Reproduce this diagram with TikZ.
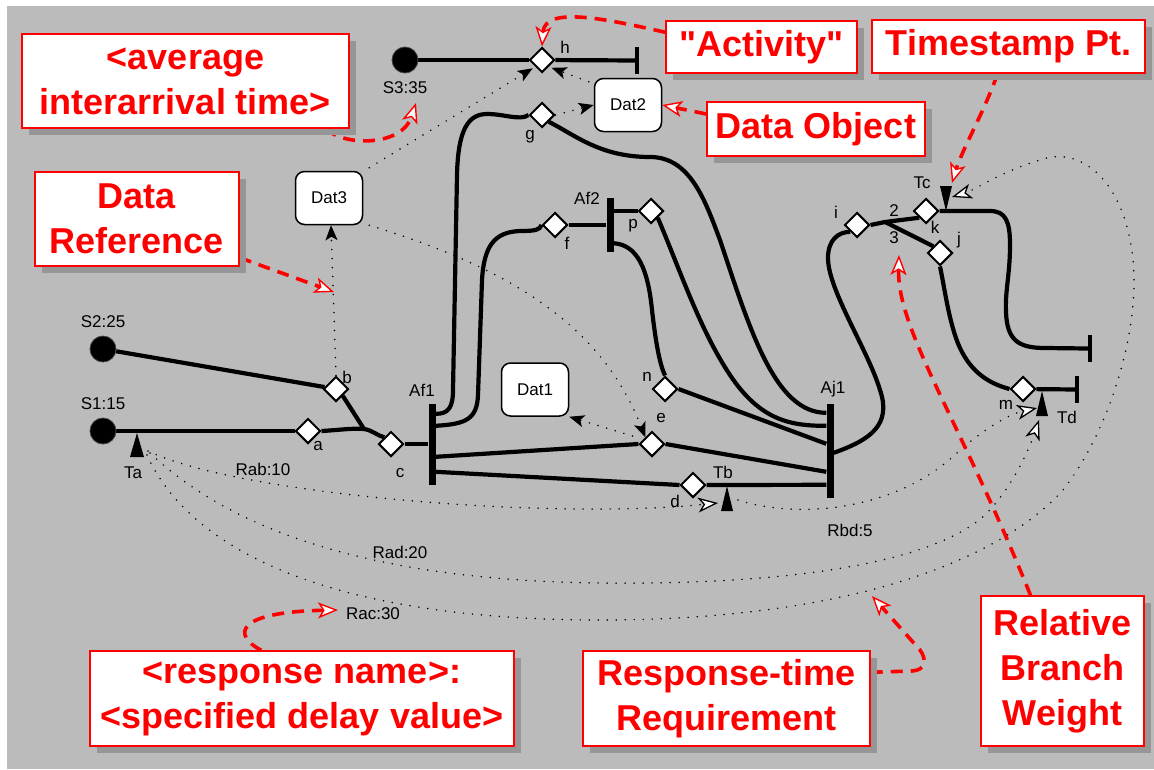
\documentclass[tikz,border=0pt]{standalone}
\usepackage{fontspec}
\setmainfont{Liberation Sans}[Ligatures=TeXOff]
\usetikzlibrary{shapes.geometric,arrows.meta,calc,shadows}
\pgfdeclarelayer{back}
\pgfdeclarelayer{lines}
\pgfsetlayers{back,lines,main}
\definecolor{panel}{RGB}{187,187,187}
\definecolor{shade}{RGB}{150,150,150}
\definecolor{note}{RGB}{255,0,0}

\begin{document}
\begin{tikzpicture}[x=1pt,y=-1pt,
  lbl/.style={font=\fontsize{17}{20}\selectfont, inner sep=0pt},
  flow/.style={line width=4.2pt, line join=round},
  bar/.style={fill=black, inner sep=0pt, minimum width=7pt},
  endbar/.style={fill=black, inner sep=0pt, minimum width=4pt, minimum height=27pt},
  startpt/.style={circle, fill=black, draw=black!75, line width=0.8pt, minimum size=26pt, inner sep=0pt},
  resp/.style={diamond, draw=black, fill=white, line width=2pt, minimum size=25pt, inner sep=0pt},
  datobj/.style={draw=black, fill=white, line width=1.5pt, rounded corners=9pt,
    minimum width=67pt, minimum height=53pt, inner sep=0pt, font=\fontsize{17}{20}\selectfont},
  callout/.style={draw=note, fill=white, line width=1.5pt, text=note, align=center, inner sep=0pt,
    font=\fontsize{36}{45}\selectfont\bfseries,
    drop shadow={shadow xshift=7pt, shadow yshift=-7pt, fill=shade, opacity=1}},
  dataflow/.style={line width=1.7pt, line cap=round, dash pattern=on 0pt off 9pt,
    -{Stealth[length=15pt,width=12pt,inset=3.5pt]}},
  timing/.style={line width=1.7pt, line cap=round, dash pattern=on 0pt off 9pt,
    -{Stealth[length=20pt,width=15pt,inset=5.5pt,fill=white,line width=1.3pt]}},
  pointer/.style={draw=note, line width=3.6pt, dash pattern=on 12pt off 8pt,
    -{Stealth[length=20pt,width=16pt,inset=5pt,fill=white,line width=1.4pt]}}]

\useasboundingbox (0,0) rectangle (1154,769);
\begin{pgfonlayer}{back}
  \fill[panel] (7,6) rectangle (1154,769);
\end{pgfonlayer}

% start points
\node[startpt] (S3) at (405,60) {};
\node[startpt] (S2) at (103,349) {};
\node[startpt] (S1) at (103,431) {};

% responsibilities
\node[resp] (h) at (542,60) {};
\node[resp] (g) at (542,115) {};
\node[resp] (f) at (555,225) {};
\node[resp] (p) at (651,211) {};
\node[resp] (b) at (336,389) {};
\node[resp] (a) at (308,431) {};
\node[resp] (c) at (391,444) {};
\node[resp] (e) at (652,444) {};
\node[resp] (n) at (665,389) {};
\node[resp] (d) at (693,485) {};
\node[resp] (i) at (857,225) {};
\node[resp] (k) at (926,211) {};
\node[resp] (j) at (940,253) {};
\node[resp] (m) at (1023,389) {};

% forks, join and end bars
\node[bar, minimum height=81pt] (Af1) at (432,444.5) {};
\node[bar, minimum height=54pt] (Af2) at (610,225) {};
\node[bar, minimum height=94pt] (Aj1) at (830,451) {};
\node[endbar] (hend) at (637,60.5) {};
\node[endbar] (kend) at (1090,348.5) {};
\node[endbar] (mend) at (1077,389.5) {};

% data objects
\node[datobj] (Dat3) at (329,198) {Dat3};
\node[datobj] (Dat2) at (628,105) {Dat2};
\node[datobj] (Dat1) at (535,389.5) {Dat1};

% call-outs
\node[callout, minimum width=327pt, minimum height=94pt] (avg) at (185.5,81) {<average\\interarrival time>};
\node[callout, minimum width=204pt, minimum height=94pt] (dataref) at (137,219) {Data\\Reference};
\node[callout, minimum width=191pt, minimum height=52pt] (activity) at (761.5,47) {"Activity"};
\node[callout, minimum width=273pt, minimum height=53pt] (timestamp) at (1008.5,46.5) {Timestamp Pt.};
\node[callout, minimum width=218pt, minimum height=54pt] (dataobj) at (816,129) {Data Object};
\node[callout, minimum width=424pt, minimum height=95pt] (respname) at (302,698.5) {<response name>:\\<specified delay value>};
\node[callout, minimum width=287pt, minimum height=95pt] (resptime) at (726.5,698.5) {Response-time\\Requirement};
\node[callout, minimum width=163pt, minimum height=150pt] (relative) at (1062.5,671) {Relative\\Branch\\Weight};

% timestamp points
\coordinate (Ta) at (137,433);
\coordinate (Tb) at (727,486);
\coordinate (Tc) at (946,211);
\coordinate (Td) at (1042,391);
\fill (Ta) -- ++(-7,24) -- ++(14,0) -- cycle;
\fill (Tb) -- ++(-6,25) -- ++(12,0) -- cycle;
\fill (Tc) -- ++(-6,-25) -- ++(12,0) -- cycle;
\fill (Td) -- ++(-6,25) -- ++(12,0) -- cycle;

% labels
\node[lbl] at (405,88) {S3:35};
\node[lbl] at (103,322) {S2:25};
\node[lbl] at (103,404) {S1:15};
\node[lbl] at (565,47) {h};
\node[lbl] at (530,137) {g};
\node[lbl] at (567,243) {f};
\node[lbl] at (633,226) {p};
\node[lbl] at (347,377) {b};
\node[lbl] at (318,446) {a};
\node[lbl] at (400,473) {c};
\node[lbl] at (661,418) {e};
\node[lbl] at (647,377) {n};
\node[lbl] at (675,501) {d};
\node[lbl] at (836,212) {i};
\node[lbl] at (935,227) {k};
\node[lbl] at (959,240) {j};
\node[lbl] at (1006,405) {m};
\node[lbl] at (422,390) {Af1};
\node[lbl] at (587,198) {Af2};
\node[lbl] at (833,389) {Aj1};
\node[lbl] at (133,473) {Ta};
\node[lbl] at (723,472) {Tb};
\node[lbl] at (922,183) {Tc};
\node[lbl] at (1067,417) {Td};
\node[lbl] at (894,211) {2};
\node[lbl] at (894,238) {3};
\node[lbl] at (263,469) {Rab:10};
\node[lbl] at (850,530) {Rbd:5};
\node[lbl] at (400,552) {Rad:20};
\node[lbl] at (373,614) {Rac:30};

\begin{pgfonlayer}{lines}
  % scenario paths
  \draw[flow] (S3) -- (h);
  \draw[flow] (h) -- (hend);
  \draw[flow] (S2) -- (b);
  \draw[flow] (S1) -- (a);
  \coordinate (J) at (364,429);
  \draw[flow] (b.south east) -- (J);
  \draw[flow] (a.east) .. controls (340,430) and (352,428) .. (J)
    .. controls (372,430) and (378,436) .. (c.north west);
  \draw[flow] (c) -- (c -| Af1.west);
  \draw[flow] ($(Af1.north east)+(0,10)$) .. controls (448,414) and (453,408) .. (453,390)
    -- (457,175) .. controls (458,130) and (468,114) .. (487,114)
    .. controls (505,114) and (520,121) .. (g.west);
  \draw[flow] ($(Af1.north east)+(0,22)$) .. controls (465,424) and (477,420) .. (478,395)
    -- (482,280) .. controls (484,245) and (495,232) .. (520,231)
    .. controls (535,231) and (540,230) .. (f.west);
  \draw[flow] ($(Af1.north east)+(0,53)$) -- (e.west);
  \draw[flow] ($(Af1.north east)+(0,68)$) -- (d.west);
  \draw[flow] (e.east) -- ($(Aj1.north west)+(0,68)$);
  \draw[flow] (d.east) -- ($(Aj1.north west)+(0,81)$);
  \draw[flow] (n.east) -- ($(Aj1.north west)+(0,40)$);
  \draw[flow] (f) -- (f -| Af2.west);
  \draw[flow] (p -| Af2.east) -- (p);
  \draw[flow] ($(Af2.south east)+(0,-9)$) .. controls (638,245) and (648,270) .. (652,310)
    .. controls (656,345) and (660,365) .. (n.north);
  \draw[flow] (g.south east) .. controls (575,135) and (600,157) .. (650,157)
    .. controls (690,157) and (705,200) .. (720,240)
    .. controls (750,330) and (775,413) .. ($(Aj1.north west)+(0,9)$);
  \draw[flow] (p.south east) .. controls (680,270) and (700,330) .. (730,375)
    .. controls (760,420) and (790,426) .. ($(Aj1.north west)+(0,22)$);
  \draw[flow] ($(Aj1.north east)+(0,49)$) .. controls (870,440) and (892,425) .. (880,390)
    .. controls (868,350) and (828,290) .. (828,258)
    .. controls (828,240) and (838,232) .. (i.south west);
  \coordinate (K) at (885,222);
  \draw[flow] (i.east) -- (K) -- (k.south west);
  \draw[flow] (K) -- (j.north west);
  \draw[flow] (k.east) -- (990,211) .. controls (1006,211) and (1010,222) .. (1010,245)
    .. controls (1010,275) and (1005,290) .. (1006,312)
    .. controls (1007,340) and (1018,348) .. (1045,348) -- (kend.west);
  \draw[flow] (j.south) .. controls (945,290) and (950,330) .. (962,352)
    .. controls (975,377) and (995,385) .. (m.west);
  \draw[flow] (m) -- (mend);

  % data references
  \draw[dataflow] (b.north) -- ($(Dat3.south)+(2,0)$);
  \draw[dataflow, shorten >=3pt] ($(Dat3.north east)+(6,-3)$) -- (h.south west);
  \draw[dataflow, shorten >=3pt] ($(Dat2.north west)+(-5,4)$) -- (h.south east);
  \draw[dataflow] (g.east) -- (Dat2.west);
  \draw[dataflow] ($(Dat3.south east)+(6,0)$) .. controls (500,265) and (600,320) .. (e.north west);
  \draw[dataflow] ($(e.west)+(-6,-8)$) -- (Dat1.south east);

  % response-time requirements
  \draw[timing] ($(Ta)+(11,18)$) .. controls (240,495) and (550,520) .. ($(Tb)+(-9,17)$);
  \draw[timing] ($(Tb)+(11,14)$) .. controls (800,520) and (900,510) .. (960,450)
    .. controls (990,425) and (1010,414) .. ($(Td)+(-5,17)$);
  \draw[timing] ($(Ta)+(13,20)$) .. controls (210,510) and (330,580) .. (600,583)
    .. controls (780,585) and (930,565) .. (985,515)
    .. controls (1010,490) and (1027,455) .. ($(Td)+(-3,29)$);
  \draw[timing] ($(Ta)+(10,22)$) .. controls (190,550) and (330,620) .. (600,620)
    .. controls (850,620) and (1000,560) .. (1063,490)
    .. controls (1110,430) and (1140,330) .. (1133,260)
    .. controls (1125,180) and (1080,145) .. (1040,160)
    .. controls (1000,172) and (975,190) .. ($(Tc)+(6,-14)$);

  % call-out pointers
  \coordinate (avgtip) at (416,103);
  \coordinate (drtip) at (334,292);
  \coordinate (wtip) at (899,255);
  \coordinate (ractip) at (338,610);
  \coordinate (rttip) at (872,596);
  \draw[pointer] ($(avg.south east)+(-24,0)$) .. controls (345,147) and (402,146) .. (avgtip);
  \draw[pointer] ($(dataref.south east)+(0,-9)$) -- (drtip);
  \draw[pointer] ($(activity.north west)+(0,12)$) .. controls (610,20) and (545,5) .. (h.north);
  \draw[pointer] ($(timestamp.south)+(-11,0)$) .. controls (985,110) and (962,150) .. ($(Tc)+(6,-28)$);
  \draw[pointer] ($(dataobj.west)+(0,-15)$) -- (Dat2.east);
  \draw[pointer] ($(relative.north)+(-32,0)$) .. controls (960,420) and (897,330) .. (wtip);
  \draw[pointer] ($(respname.north west)+(172,0)$) .. controls (232,635) and (235,612) .. (ractip);
  \draw[pointer] ($(resptime.north east)+(0,22)$) -- (912,671)
    .. controls (926,670) and (927,660) .. (920,650) -- (rttip);
\end{pgfonlayer}
\end{tikzpicture}
\end{document}
